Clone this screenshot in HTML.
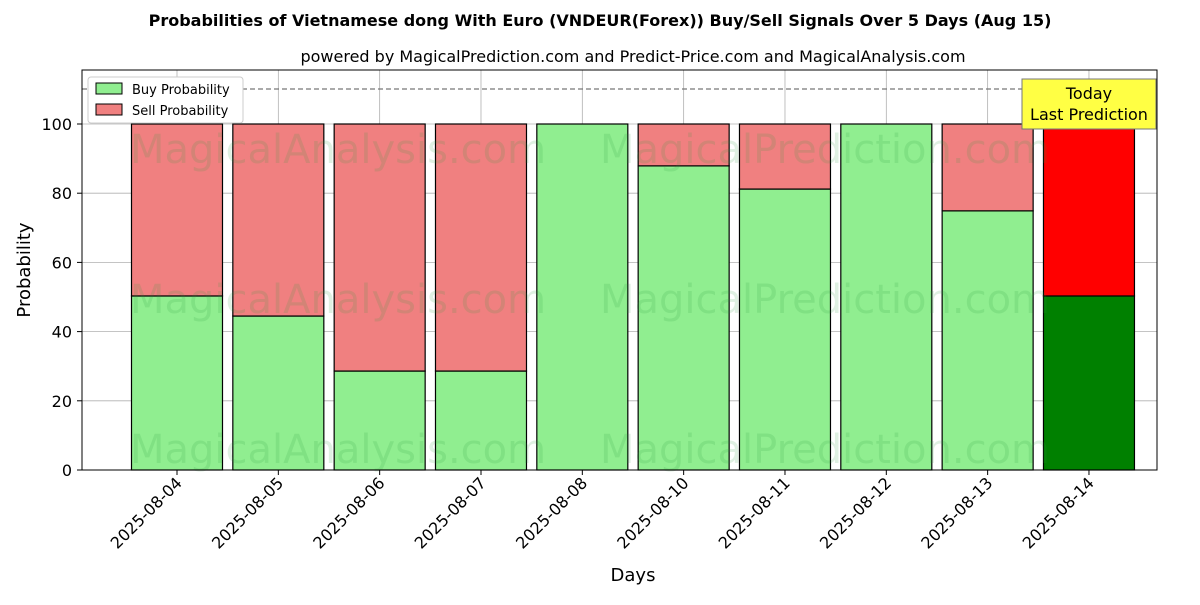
<!DOCTYPE html>
<html><head><meta charset="utf-8"><style>
body{margin:0;background:#fff;font-family:"Liberation Sans","DejaVu Sans",sans-serif}
svg text{font-family:"DejaVu Sans","Liberation Sans",sans-serif}
</style></head><body>
<svg id="chart" width="1200" height="600" xmlns="http://www.w3.org/2000/svg">
<text x="600" y="26" text-anchor="middle" font-size="16" font-weight="bold">Probabilities of Vietnamese dong With Euro (VNDEUR(Forex)) Buy/Sell Signals Over 5 Days (Aug 15)</text>
<text x="633" y="62" text-anchor="middle" font-size="16">powered by MagicalPrediction.com and Predict-Price.com and MagicalAnalysis.com</text>
<g id="grid"></g>
<g id="bars"></g>
<g id="wm" fill="#2a9d3a" fill-opacity="0.15" font-size="40">
<text x="130" y="163">MagicalAnalysis.com</text><text x="600" y="163">MagicalPrediction.com</text>
<text x="130" y="313">MagicalAnalysis.com</text><text x="600" y="313">MagicalPrediction.com</text>
<text x="130" y="463">MagicalAnalysis.com</text><text x="600" y="463">MagicalPrediction.com</text>
</g>
<line x1="82" x2="1157" y1="89" y2="89" stroke="#777" stroke-dasharray="5,3" stroke-width="1.2"/>
<rect x="82" y="70" width="1075" height="400" fill="none" stroke="#000" stroke-width="1"/>
<g id="ticks"></g>
<text x="30" y="270" transform="rotate(-90 30 270)" text-anchor="middle" font-size="18">Probability</text>
<text x="633" y="581" text-anchor="middle" font-size="18">Days</text>
<g>
<rect x="88" y="77" width="155" height="46" fill="#fff" stroke="#ccc" rx="3"/>
<rect x="96" y="83" width="26" height="11" fill="#90ee90" stroke="#000"/>
<text x="132" y="94" font-size="13">Buy Probability</text>
<rect x="96" y="104" width="26" height="11" fill="#f08080" stroke="#000"/>
<text x="132" y="115" font-size="13">Sell Probability</text>
</g>
<g>
<rect x="1022" y="79" width="134" height="50" fill="#ffff44" stroke="#777"/>
<text x="1089" y="99" text-anchor="middle" font-size="16">Today</text>
<text x="1089" y="120" text-anchor="middle" font-size="16">Last Prediction</text>
</g>
</svg>
<script>
const categories=["2025-08-04","2025-08-05","2025-08-06","2025-08-07","2025-08-08","2025-08-10","2025-08-11","2025-08-12","2025-08-13","2025-08-14"];
const buyValues=[50.3,44.5,28.6,28.6,100,87.9,81.2,100,74.9,50.3];
const sellValues=[49.7,55.5,71.4,71.4,0,12.1,18.8,0,25.1,49.7];
const yTicks=[0,20,40,60,80,100];
const NS="http://www.w3.org/2000/svg";
const y=v=>470-v*3.46;
const x=i=>177+i*101.33;
const bw=91;
function mk(tag,attrs,parent){const e=document.createElementNS(NS,tag);for(const k in attrs)e.setAttribute(k,attrs[k]);parent.appendChild(e);return e;}
const grid=document.getElementById('grid'),bars=document.getElementById('bars'),ticks=document.getElementById('ticks');
yTicks.forEach(t=>{
 const l=mk('line',{x1:82,x2:1157,y1:y(t),y2:y(t),stroke:'#b0b0b0','stroke-width':0.8},grid);
 
 
 mk('line',{x1:77,x2:82,y1:y(t),y2:y(t),stroke:'#000'},ticks);
 const tx=mk('text',{x:72,y:y(t)+6,'text-anchor':'end','font-size':16},ticks);
 tx.textContent=t;
 
 
});
categories.forEach((c,i)=>{
 const cx=x(i);
 const g=mk('line',{x1:cx,x2:cx,y1:70,y2:470,stroke:'#b0b0b0','stroke-width':0.8},grid);
 
 
 const last=i===categories.length-1;
 const b=mk('rect',{x:cx-bw/2,y:y(buyValues[i]),width:bw,height:buyValues[i]*3.46,fill:last?'#008000':'#90ee90',stroke:'#000','stroke-width':1.2},bars);
 
 
 const s=mk('rect',{x:cx-bw/2,y:y(buyValues[i]+sellValues[i]),width:bw,height:sellValues[i]*3.46,fill:last?'#ff0000':'#f08080',stroke:'#000','stroke-width':1.2},bars);
 
 
 mk('line',{x1:cx,x2:cx,y1:470,y2:475,stroke:'#000'},ticks);
 const tx=mk('text',{x:cx+6,y:484,'text-anchor':'end','font-size':16,transform:`rotate(-45 ${cx+6} 484)`},ticks);
 tx.textContent=c;
 
 
});
</script>
</body></html>
